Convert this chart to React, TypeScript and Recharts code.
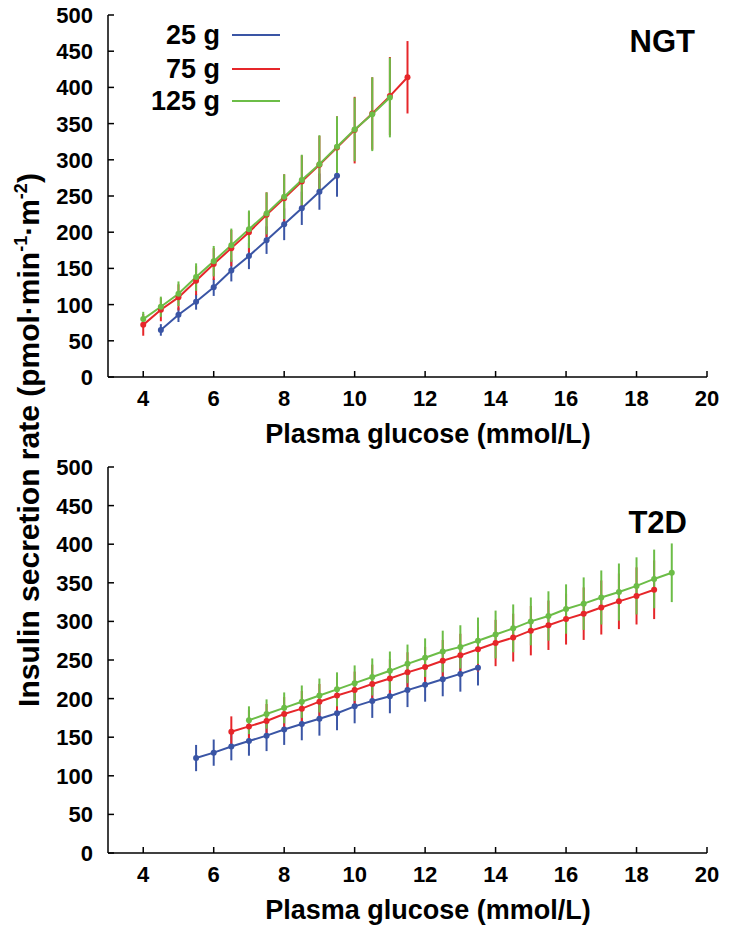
import { LineChart, Line, XAxis, YAxis, ErrorBar } from 'recharts';

const BLUE = '#3a55a5';
const RED = '#e6262a';
const GREEN = '#6cbd47';
const FONT = "'Liberation Sans', Arial, sans-serif";

const xTicks = [4, 6, 8, 10, 12, 14, 16, 18, 20];
const yTicks = [0, 50, 100, 150, 200, 250, 300, 350, 400, 450, 500];

// NGT panel
const ngtGlucose25 = [4.5, 5, 5.5, 6, 6.5, 7, 7.5, 8, 8.5, 9, 9.5];
const ngtIsr25 = [65, 86, 104, 124, 147, 167, 189, 211, 233, 256, 278];
const ngtErr25 = [8, 10, 11, 12, 15, 18, 19, 22, 23, 25, 29];

const ngtGlucose75 = [4, 4.5, 5, 5.5, 6, 6.5, 7, 7.5, 8, 8.5, 9, 9.5, 10, 10.5, 11, 11.5];
const ngtIsr75 = [72, 93, 110, 133, 156, 178, 200, 224, 247, 270, 293, 317, 341, 364, 388, 414];
const ngtErr75 = [15, 16, 18, 20, 22, 25, 28, 31, 33, 36, 40, 43, 46, 50, 54, 50];

const ngtGlucose125 = [4, 4.5, 5, 5.5, 6, 6.5, 7, 7.5, 8, 8.5, 9, 9.5, 10, 10.5, 11];
const ngtIsr125 = [80, 97, 115, 138, 160, 182, 204, 226, 249, 272, 294, 318, 342, 363, 386];
const ngtErr125 = [10, 14, 17, 19, 21, 23, 26, 29, 31, 35, 40, 42, 44, 51, 55];

// T2D panel
const t2dGlucose25 = [5.5, 6, 6.5, 7, 7.5, 8, 8.5, 9, 9.5, 10, 10.5, 11, 11.5, 12, 12.5, 13, 13.5];
const t2dIsr25 = [123, 130, 138, 145, 152, 160, 167, 174, 181, 190, 197, 203, 211, 218, 225, 232, 240];
const t2dErr25 = [17, 17, 18, 19, 20, 20, 21, 22, 22, 22, 22, 22, 22, 22, 22, 23, 23];

const t2dGlucose75 = [6.5, 7, 7.5, 8, 8.5, 9, 9.5, 10, 10.5, 11, 11.5, 12, 12.5, 13, 13.5, 14, 14.5, 15, 15.5, 16, 16.5, 17, 17.5, 18, 18.5];
const t2dIsr75 = [157, 164, 171, 180, 187, 196, 204, 211, 219, 226, 234, 241, 249, 256, 264, 272, 279, 288, 295, 303, 310, 318, 326, 333, 341];
const t2dErr75 = [20, 21, 22, 22, 23, 23, 24, 24, 25, 25, 26, 26, 27, 28, 29, 30, 31, 32, 32, 33, 34, 35, 36, 37, 38];

const t2dGlucose125 = [7, 7.5, 8, 8.5, 9, 9.5, 10, 10.5, 11, 11.5, 12, 12.5, 13, 13.5, 14, 14.5, 15, 15.5, 16, 16.5, 17, 17.5, 18, 18.5, 19];
const t2dIsr125 = [172, 180, 188, 196, 204, 212, 220, 228, 236, 245, 253, 261, 267, 275, 283, 291, 300, 307, 316, 323, 331, 338, 346, 355, 363];
const t2dErr125 = [18, 19, 20, 21, 22, 22, 23, 24, 25, 25, 25, 27, 28, 30, 31, 31, 31, 32, 32, 34, 35, 37, 37, 38, 38];

const toRows = (xs: number[], ys: number[], es: number[]) =>
  xs.map((x, i) => ({ glucose: x, isr: ys[i], err: es[i] }));

const XTick = (props: any) => {
  const { x, y, payload } = props;
  return (
    <g>
      <line x1={x} y1={y} x2={x} y2={y - 6} stroke="#000" strokeWidth={1.5} />
      <text x={x} y={y + 29} textAnchor="middle" fontSize={22} fontWeight="bold" fontFamily={FONT} fill="#000">
        {payload.value}
      </text>
    </g>
  );
};

const YTick = (props: any) => {
  const { x, y, payload } = props;
  return (
    <g>
      <line x1={x} y1={y} x2={x + 6} y2={y} stroke="#000" strokeWidth={1.5} />
      <text x={x - 15} y={y + 8} textAnchor="end" fontSize={22} fontWeight="bold" fontFamily={FONT} fill="#000">
        {payload.value}
      </text>
    </g>
  );
};

type Series = { rows: { glucose: number; isr: number; err: number }[]; color: string; name: string };

function Panel({ series, height, xAxisHeight }: { series: Series[]; height: number; xAxisHeight: number }) {
  return (
    <LineChart width={730} height={height} margin={{ top: 15, right: 23, left: 58, bottom: 0 }}>
      <XAxis
        dataKey="glucose"
        type="number"
        domain={[3, 20]}
        ticks={xTicks}
        height={xAxisHeight}
        tickSize={0}
        tickMargin={0}
        tick={<XTick />}
        axisLine={{ stroke: '#000', strokeWidth: 1.5 }}
        allowDataOverflow
      />
      <YAxis
        type="number"
        domain={[0, 500]}
        ticks={yTicks}
        width={50}
        tickSize={0}
        tickMargin={0}
        tick={<YTick />}
        axisLine={{ stroke: '#000', strokeWidth: 1.5 }}
        allowDataOverflow
      />
      {series.map((s) => (
        <Line
          key={s.name}
          name={s.name}
          data={s.rows}
          dataKey="isr"
          stroke={s.color}
          strokeWidth={2}
          dot={{ r: 3, fill: s.color, stroke: s.color, strokeWidth: 0 }}
          activeDot={false}
          isAnimationActive={false}
        >
          <ErrorBar dataKey="err" direction="y" width={0} stroke={s.color} strokeWidth={2} />
        </Line>
      ))}
    </LineChart>
  );
}

export default function App() {
  const ngt: Series[] = [
    { name: '25 g', color: BLUE, rows: toRows(ngtGlucose25, ngtIsr25, ngtErr25) },
    { name: '75 g', color: RED, rows: toRows(ngtGlucose75, ngtIsr75, ngtErr75) },
    { name: '125 g', color: GREEN, rows: toRows(ngtGlucose125, ngtIsr125, ngtErr125) },
  ];
  const t2d: Series[] = [
    { name: '25 g', color: BLUE, rows: toRows(t2dGlucose25, t2dIsr25, t2dErr25) },
    { name: '75 g', color: RED, rows: toRows(t2dGlucose75, t2dIsr75, t2dErr75) },
    { name: '125 g', color: GREEN, rows: toRows(t2dGlucose125, t2dIsr125, t2dErr125) },
  ];
  const legend = [
    { name: '25 g', color: BLUE, y: 35 },
    { name: '75 g', color: RED, y: 69 },
    { name: '125 g', color: GREEN, y: 101 },
  ];

  return (
    <div style={{ position: 'absolute', left: 0, top: 0, width: 730, height: 931, background: '#fff' }}>
      <div style={{ position: 'absolute', left: 0, top: 0 }}>
        <Panel series={ngt} height={460} xAxisHeight={83} />
      </div>
      <div style={{ position: 'absolute', left: 0, top: 452 }}>
        <Panel series={t2d} height={479} xAxisHeight={78} />
      </div>
      <svg
        width={730}
        height={931}
        style={{ position: 'absolute', left: 0, top: 0, pointerEvents: 'none' }}
        fontFamily={FONT}
        fontWeight="bold"
      >
        {legend.map((l) => (
          <g key={l.name}>
            <text x={220} y={l.y + 9} textAnchor="end" fontSize={27} fill="#000">
              {l.name}
            </text>
            <line x1={232} y1={l.y} x2={280} y2={l.y} stroke={l.color} strokeWidth={2} />
          </g>
        ))}
        <text x={695} y={52} textAnchor="end" fontSize={31} fill="#000">NGT</text>
        <text x={687} y={533} textAnchor="end" fontSize={31} fill="#000">T2D</text>
        <text x={428} y={443} textAnchor="middle" fontSize={27} fill="#000">Plasma glucose (mmol/L)</text>
        <text x={428} y={919} textAnchor="middle" fontSize={27} fill="#000">Plasma glucose (mmol/L)</text>
        <text transform="rotate(-90)" x={-440} y={39} textAnchor="middle" fontSize={30} fill="#000">
          Insulin secretion rate (pmol·min
          <tspan dy={-12} fontSize={18}>-1</tspan>
          <tspan dy={12}>·m</tspan>
          <tspan dy={-12} fontSize={18}>-2</tspan>
          <tspan dy={12}>)</tspan>
        </text>
      </svg>
    </div>
  );
}
